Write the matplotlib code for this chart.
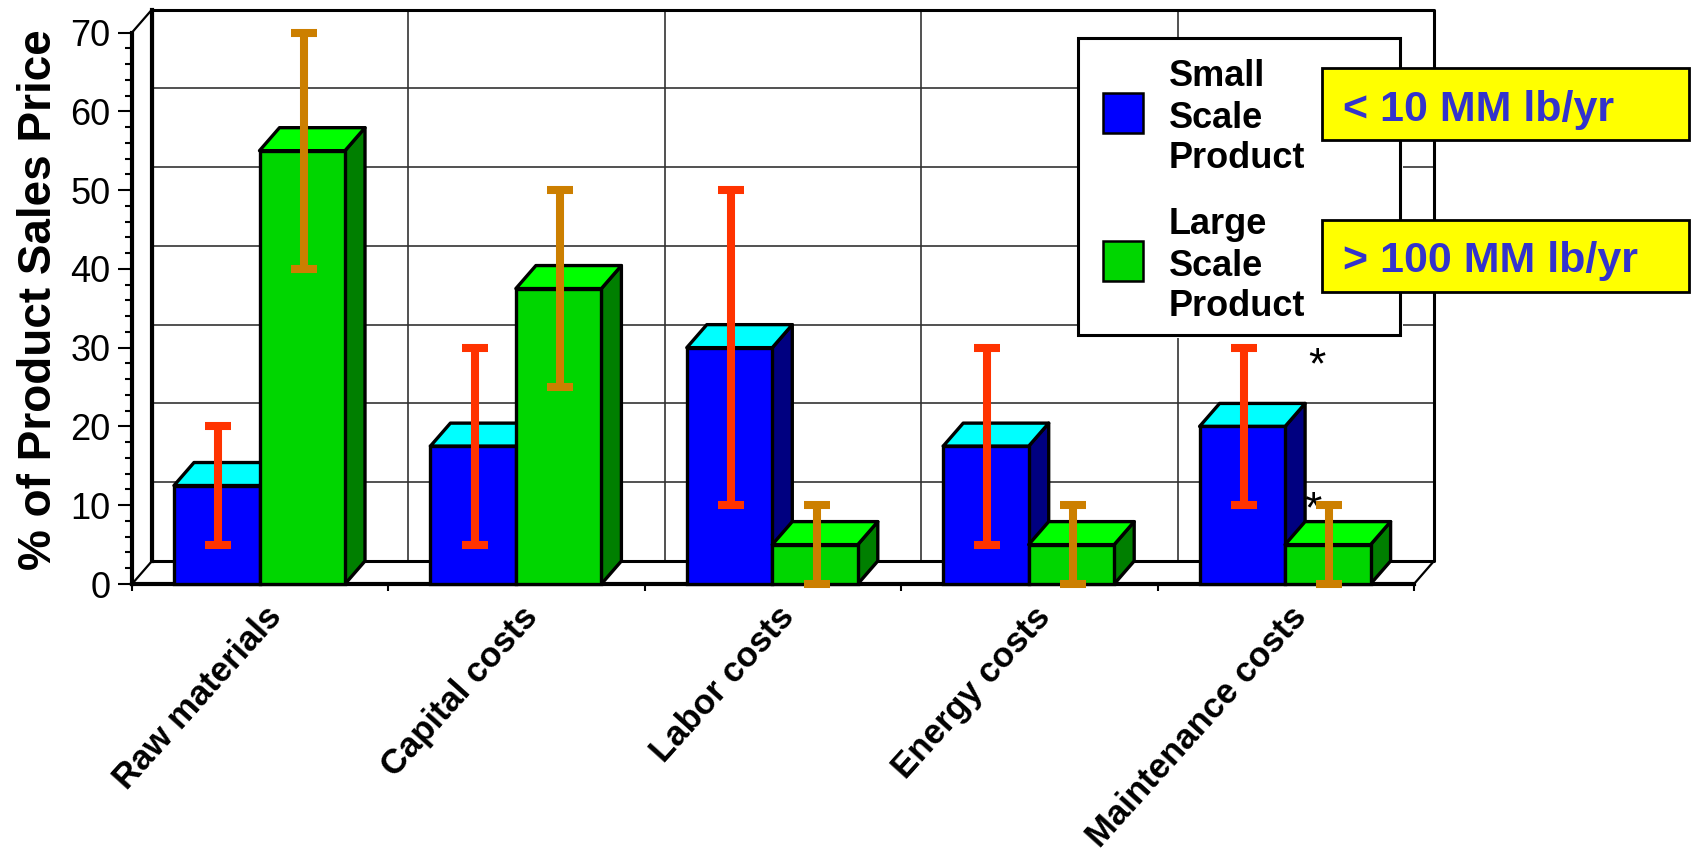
import numpy as np
import matplotlib
matplotlib.use("Agg")
import matplotlib.pyplot as plt
from matplotlib.patches import Polygon, Rectangle

plt.rcParams['font.family'] = ['Liberation Sans', 'DejaVu Sans']

categories = ['Raw materials', 'Capital costs', 'Labor costs', 'Energy costs', 'Maintenance costs']
small_vals = [12.5, 17.5, 30, 17.5, 20]
large_vals = [55, 37.5, 5, 5, 5]
small_low = [5, 5, 10, 5, 10]
small_high = [20, 30, 50, 30, 30]
large_low = [40, 25, 0, 0, 0]
large_high = [70, 50, 10, 10, 10]

W, H = 1693, 857
x0_px, x1_px = 132, 1414
y0_px, y70_px = 584, 32.5
depth_px = (20, 23)
px_x = (x1_px - x0_px) / 5
px_y = (y0_px - y70_px) / 70
dx = depth_px[0] / px_x
dy = depth_px[1] / px_y
bar_w = 85.5 / px_x
lw = 2.4

fig = plt.figure(figsize=(W / 100, H / 100), dpi=100)
fig.set_facecolor("white")
ax = fig.add_axes([x0_px / W, 1 - y0_px / H, (x1_px - x0_px) / W, (y0_px - y70_px) / H])
ax.set_xlim(0, 5)
ax.set_ylim(0, 70)
ax.patch.set_visible(False)
for s in ['top', 'right']:
    ax.spines[s].set_visible(False)
ax.spines['left'].set_linewidth(3)
ax.spines['bottom'].set_linewidth(3)

# back wall grid
for v in range(10, 70, 10):
    ax.plot([dx, 5 + dx], [v + dy, v + dy], color='#333333', lw=1.2, clip_on=False, zorder=1)
for i in range(1, 5):
    ax.plot([i + dx, i + dx], [dy, 70 + dy], color='#333333', lw=1.2, clip_on=False, zorder=1)
ax.plot([dx, 5 + dx, 5 + dx, dx, dx], [dy, dy, 70 + dy, 70 + dy, dy], color='black', lw=2.2, clip_on=False, zorder=1)
ax.plot([dx, dx], [dy, 70 + dy], color='black', lw=3, clip_on=False, zorder=1)
ax.plot([0, dx], [0, dy], color='black', lw=1.6, clip_on=False, zorder=1)
ax.plot([0, dx], [70, 70 + dy], color='black', lw=1.6, clip_on=False, zorder=1)
ax.plot([5, 5 + dx], [0, dy], color='black', lw=1.6, clip_on=False, zorder=1)


def box(x, v, front, top, side, z):
    ax.add_patch(Polygon([(x + bar_w, 0), (x + bar_w + dx, dy), (x + bar_w + dx, v + dy), (x + bar_w, v)],
                         fc=side, ec='black', lw=lw, clip_on=False, zorder=z, joinstyle='round'))
    ax.add_patch(Polygon([(x, v), (x + dx, v + dy), (x + bar_w + dx, v + dy), (x + bar_w, v)],
                         fc=top, ec='black', lw=lw, clip_on=False, zorder=z, joinstyle='round'))
    ax.add_patch(Rectangle((x, 0), bar_w, v, fc=front, ec='black', lw=lw, clip_on=False, zorder=z))


offset = 42 / px_x
for i in range(5):
    xs = i + offset
    box(xs, small_vals[i], '#0000FF', '#00FFFF', '#000080', 3 + (i * 0.01))
    box(xs + bar_w, large_vals[i], '#00D600', '#00FF00', '#007F00', 4 + (i * 0.01))

centers = np.arange(5) + offset + 1.5 / px_x
ax.errorbar(centers + bar_w / 2, small_low, yerr=[np.zeros(5), np.array(small_high) - np.array(small_low)],
            fmt='none', ecolor='#FF3300', elinewidth=5.8, capsize=9.7, capthick=5.8, clip_on=False, zorder=6)
ax.errorbar(centers + bar_w * 1.5, large_low, yerr=[np.zeros(5), np.array(large_high) - np.array(large_low)],
            fmt='none', ecolor='#CC7F00', elinewidth=5.8, capsize=9.7, capthick=5.8, clip_on=False, zorder=6)

ax.set_yticks(range(0, 80, 10))
ax.set_yticks(range(0, 72, 2), minor=True)
ax.set_xticks(range(6))
ax.set_xticklabels([])
ax.tick_params(axis='y', which='major', length=10, width=1.5, labelsize=26, pad=5.5)
ax.tick_params(axis='y', which='minor', length=5, width=1.5)
ax.tick_params(axis='x', length=5, width=1.5)
ax.set_ylabel('% of Product Sales Price', fontsize=33, fontweight='bold')
ax.yaxis.set_label_coords((61 - x0_px) / (x1_px - x0_px), (y0_px - 300) / (y0_px - y70_px))

for i, c in enumerate(categories):
    ax.annotate(c, xy=(i + 0.5, 0), xytext=(2.5, -12), textcoords='offset points', rotation=48,
                ha='right', va='top', rotation_mode='anchor', fontsize=25, fontweight='bold',
                annotation_clip=False)

# asterisks
ax.text(1317 / W, 1 - 367 / H, '*', fontsize=32, ha='center', va='center', zorder=5, transform=fig.transFigure)
ax.text(1313 / W, 1 - 511 / H, '*', fontsize=32, ha='center', va='center', zorder=5, transform=fig.transFigure)


def fig_rect(x0, y0, x1, y1, **kw):
    fig.add_artist(Rectangle((x0 / W, 1 - y1 / H), (x1 - x0) / W, (y1 - y0) / H, transform=fig.transFigure, **kw))


# legend + yellow boxes
fig_rect(1078, 38, 1403, 338, fc='white', ec='none', zorder=10)
fig_rect(1078, 38, 1400, 335, fc='white', ec='black', lw=2.2, zorder=10)
fig_rect(1103, 93, 1143, 133, fc='#0000FF', ec='black', lw=1.8, zorder=11)
fig_rect(1103, 241, 1143, 281, fc='#00D600', ec='black', lw=1.8, zorder=11)
for y, t in zip([76, 118, 158, 225, 266, 307], ['Small', 'Scale', 'Product', 'Large', 'Scale', 'Product']):
    fig.text(1169 / W, 1 - y / H, t, fontsize=26, fontweight='bold', va='center', ha='left', zorder=11)
fig_rect(1322, 68, 1689, 140, fc='#FFFF00', ec='black', lw=2, zorder=12)
fig_rect(1322, 220, 1689, 292, fc='#FFFF00', ec='black', lw=2, zorder=12)
fig.text(1343 / W, 1 - 110 / H, '< 10 MM lb/yr', fontsize=31, fontweight='bold', color='#3333CC', va='center', zorder=13)
fig.text(1343 / W, 1 - 261 / H, '> 100 MM lb/yr', fontsize=31, fontweight='bold', color='#3333CC', va='center', zorder=13)

fig.savefig('out.png', dpi=100)
